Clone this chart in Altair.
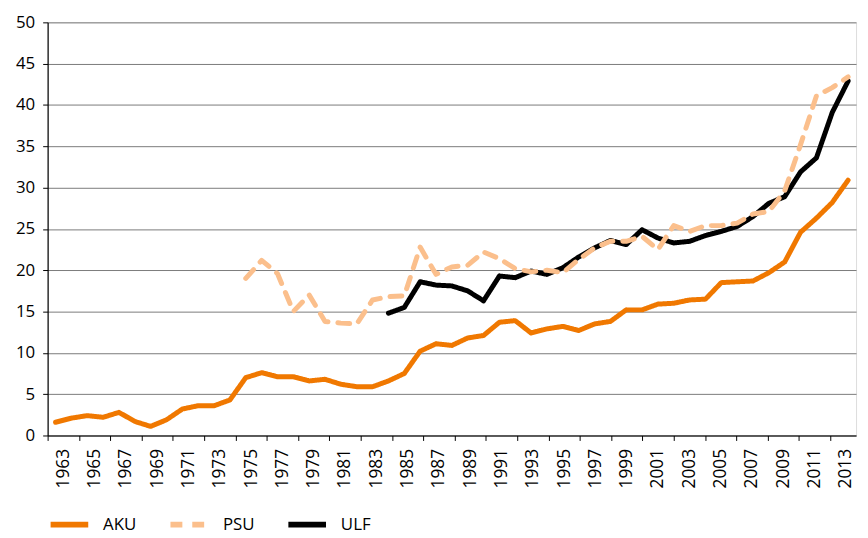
import altair as alt
import pandas as pd

years = list(range(1963, 2014))
aku = [1.6, 2.1, 2.4, 2.2, 2.8, 1.7, 1.1, 1.9, 3.2, 3.6,
       3.6, 4.3, 7.0, 7.6, 7.1, 7.1, 6.6, 6.8, 6.2, 5.9,
       5.9, 6.6, 7.5, 10.2, 11.1, 10.9, 11.8, 12.1, 13.7, 13.9,
       12.4, 12.9, 13.2, 12.7, 13.5, 13.8, 15.2, 15.2, 15.9, 16.0,
       16.4, 16.5, 18.5, 18.6, 18.7, 19.7, 21.0, 24.6, 26.3, 28.2,
       30.9]
psu_years = list(range(1975, 2014))
psu = [19.0, 21.2, 19.6, 15.0, 17.0, 13.8, 13.6, 13.5, 16.4, 16.8,
       16.9, 22.8, 19.5, 20.4, 20.6, 22.2, 21.4, 20.2, 19.8, 20.0,
       19.7, 21.3, 22.7, 23.5, 23.5, 24.1, 22.5, 25.4, 24.7, 25.4,
       25.4, 25.7, 26.8, 27.1, 29.6, 35.2, 41.1, 42.1, 43.4]
ulf_years = list(range(1984, 2014))
ulf = [14.8, 15.5, 18.6, 18.2, 18.1, 17.5, 16.3, 19.3, 19.1, 19.9,
       19.5, 20.3, 21.6, 22.7, 23.6, 23.1, 24.9, 23.9, 23.3, 23.5,
       24.2, 24.7, 25.3, 26.5, 28.1, 28.9, 31.9, 33.6, 39.1, 42.9]

series = ["AKU", "PSU", "ULF"]
colors = ["#F07800", "#FBBF8C", "#000000"]
dashes = [[1, 0], [12, 10], [1, 0]]
tick_years = [1962.5 + 2 * k for k in range(26)]
y_ticks = list(range(0, 51, 5))

rows = []
for name, ys, vs in [("AKU", years, aku), ("PSU", psu_years, psu), ("ULF", ulf_years, ulf)]:
    for yr, v in zip(ys, vs):
        rows.append({"series": name, "year": yr, "value": v})
df = pd.DataFrame(rows)
tick_df = pd.DataFrame({"tick": tick_years, "value": [0] * len(tick_years)})

FONT = "Open Sans"
W, H = 816, 417

color_scale = alt.Scale(domain=series, range=colors)
dash_scale = alt.Scale(domain=series, range=dashes)
legend = alt.Legend(
    title=None, orient="none", legendX=0, legendY=485, direction="horizontal",
    symbolType="stroke", symbolSize=1444, symbolStrokeWidth=6,
    labelFontSize=17, labelFont=FONT, labelColor="#000", labelOffset=12,
    columnPadding=22,
)

y_enc = alt.Y(
    "value:Q",
    scale=alt.Scale(domain=[0, 50], nice=False, zero=True),
    axis=alt.Axis(
        values=y_ticks, title=None, grid=True, gridColor="#7a7a7a", gridWidth=1,
        domainColor="#000", domainWidth=1.2, tickColor="#000", tickSize=5,
        labelFontSize=17, labelFont=FONT, labelColor="#000", labelPadding=8,
    ),
)


def line(name):
    return (
        alt.Chart(df)
        .transform_filter(alt.datum.series == name)
        .mark_line(strokeWidth=5, strokeCap="round", strokeJoin="round")
        .encode(
            x=alt.X("year:Q", scale=alt.Scale(domain=[1962.5, 2013.5], nice=False, zero=False), axis=None),
            y=y_enc,
            color=alt.Color("series:N", scale=color_scale, legend=legend),
            strokeDash=alt.StrokeDash("series:N", scale=dash_scale, legend=legend),
        )
    )


lines = alt.layer(line("AKU"), line("ULF"), line("PSU"))

axis_layer = (
    alt.Chart(tick_df)
    .mark_point(opacity=0)
    .encode(
        x=alt.X(
            "tick:Q",
            scale=alt.Scale(domain=[1962.5, 2014.15], nice=False, zero=False),
            axis=alt.Axis(
                orient="bottom", values=tick_years, title=None, grid=False,
                labelExpr="format(datum.value + 0.5, 'd')", labelAngle=270,
                labelOffset=15.8, labelPadding=8, labelFlush=False, labelOverlap=False,
                labelFontSize=17.5, labelFont=FONT, labelColor="#000",
                tickSize=5, tickColor="#000", domainColor="#000", domainWidth=1.2,
            ),
        ),
        y=y_enc,
    )
)

chart = (
    alt.layer(lines, axis_layer)
    .resolve_scale(x="independent")
    .properties(
        width=W, height=H,
        autosize=alt.AutoSizeParams(type="none"),
        padding={"left": 40, "top": 12, "right": 4, "bottom": 101},
    )
    .configure_view(stroke=None)
    .configure(font=FONT)
)

chart.save("out.html", embed_options={"renderer": "svg", "actions": False})
